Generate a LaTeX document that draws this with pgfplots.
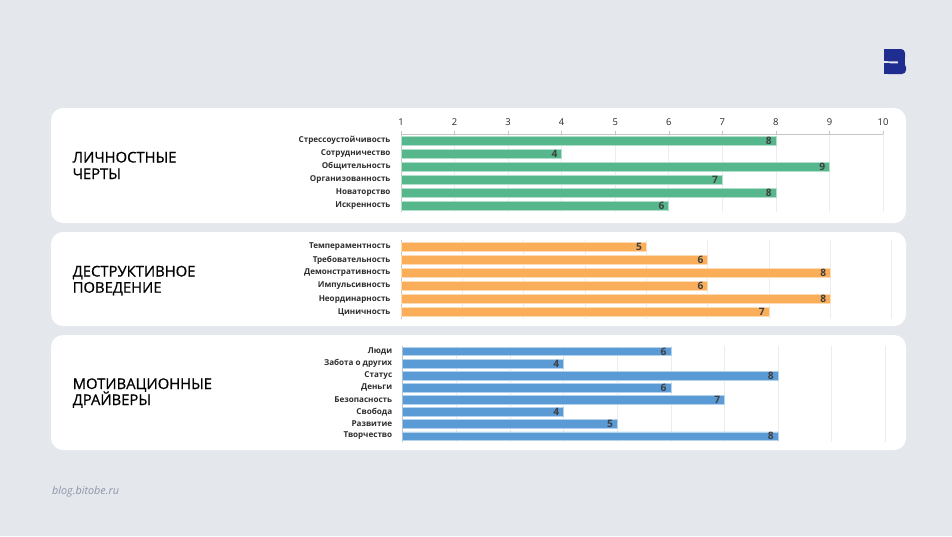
\documentclass[border=0pt]{standalone}
\usepackage{fontspec}
\setmainfont{Open Sans}
\newfontfamily\titlefont[FakeBold=0.7]{Open Sans}
\usepackage{pgfplots}
\pgfplotsset{compat=1.18}
\definecolor{bg}{HTML}{E4E7EC}
\definecolor{cgreen}{HTML}{55B78B}
\definecolor{corange}{HTML}{FAAE5A}
\definecolor{cblue}{HTML}{5B9BD5}
\definecolor{logoc}{HTML}{1E2D8F}
\definecolor{valtxt}{HTML}{3F3F3F}
\definecolor{cattxt}{HTML}{2E2E2E}
\definecolor{gridc}{HTML}{EDEDED}
\definecolor{axc}{HTML}{C4C4C4}
\definecolor{footc}{HTML}{8C96A8}
\pgfplotsset{
  panelbase/.style={
    scale only axis, anchor=north west, xbar, y dir=reverse,
    axis y line*=left,
    xmajorgrids, grid style={gridc, line width=0.6pt},
    major tick length=3pt, tick align=outside,
    ytick style={draw=none},
    extra y tick style={grid=none, tick style={draw=axc, line width=0.5pt}},
    extra y tick labels={},
    yticklabel style={font=\bfseries\fontsize{8.1}{9}\selectfont, text=cattxt, xshift=-4pt},
    nodes near coords,
    every node near coord/.append style={anchor=east, font=\bfseries\fontsize{10.2}{11}\selectfont, text=valtxt, xshift=-3pt, inner sep=1pt},
    /pgf/number format/assume math mode=true,
    axis line style={axc, line width=0.6pt},
  },
}
\begin{document}
\begin{tikzpicture}[x=1pt,y=-1pt]
\fill[bg] (0,0) rectangle (952,536);
\fill[white, rounded corners=12pt] (51,108) rectangle (906,223);
\fill[white, rounded corners=12pt] (51,232) rectangle (906,326);
\fill[white, rounded corners=12pt] (51,335) rectangle (906,450);
% logo
\fill[logoc, rounded corners=4pt] (884,49) -- (905,49) -- (905,61.3) -- (884,61.3) -- cycle;
\fill[logoc, rounded corners=4pt] (884,63.3) -- (906,63.3) -- (906,74) -- (884,74) -- cycle;
\fill[logoc] (898,58) rectangle (905,66);
\fill[logoc] (884,49) rectangle (890,61.3);
\fill[logoc] (884,63.3) rectangle (890,74);
% titles
\begin{scope}[every node/.style={anchor=base west, inner sep=0pt, font=\titlefont\fontsize{14.8}{16}\selectfont, text=black}]
\node at (72.5,162.5) {ЛИЧНОСТНЫЕ};
\node at (72.5,179) {ЧЕРТЫ};
\node at (72.5,276.5) {ДЕСТРУКТИВНОЕ};
\node at (72.5,292.7) {ПОВЕДЕНИЕ};
\node at (72.5,389) {МОТИВАЦИОННЫЕ};
\node at (72.5,405) {ДРАЙВЕРЫ};
\end{scope}
\node[anchor=base west, inner sep=0pt, font=\itshape\fontsize{10.8}{12}\selectfont, text=footc] at (52,494) {blog.bitobe.ru};
% panel 1
\begin{axis}[panelbase, at={(401pt,-134pt)}, width=482pt, height=78.3pt,
  xmin=1, xmax=10, ymin=-0.5, ymax=5.5,
  axis x line*=top, xtick={1,...,10},
  xtick style={draw=axc, line width=0.5pt},
  xticklabel style={font=\fontsize{9.4}{10}\selectfont, text=black!85, yshift=2pt},
  ytick={0,...,5},
  yticklabels={Стрессоустойчивость,Сотрудничество,Общительность,Организованность,Новаторство,Искренность},
  extra y ticks={-0.5,0.5,1.5,2.5,3.5,4.5,5.5},
  bar width=9pt]
\addplot[fill=cgreen, draw=cgreen!45!white, line width=0.6pt] coordinates {(8,0) (4,1) (9,2) (7,3) (8,4) (6,5)};
\end{axis}
% panel 2
\begin{axis}[panelbase, at={(401pt,-240.3pt)}, width=490.7pt, height=78.4pt,
  xmin=1, xmax=9, ymin=-0.5, ymax=5.5,
  axis x line*=top, xtick={1,...,9}, xticklabels={},
  x axis line style={draw=none}, xtick style={draw=none},
  ytick={0,...,5},
  yticklabels={Темпераментность,Требовательность,Демонстративность,Импульсивность,Неординарность,Циничность},
  extra y ticks={-0.5,0.5,1.5,2.5,3.5,4.5,5.5},
  bar width=9pt]
\addplot[fill=corange, draw=corange!45!white, line width=0.6pt] coordinates {(5,0) (6,1) (8,2) (6,3) (8,4) (7,5)};
\end{axis}
% panel 3
\begin{axis}[panelbase, at={(402.7pt,-345.5pt)}, width=482.6pt, height=96.6pt,
  xmin=1, xmax=10, ymin=-0.5, ymax=7.5,
  axis x line*=top, xtick={1,...,10}, xticklabels={},
  x axis line style={draw=none}, xtick style={draw=none},
  ytick={0,...,7},
  yticklabels={Люди,Забота о других,Статус,Деньги,Безопасность,Свобода,Развитие,Творчество},
  extra y ticks={-0.5,0.5,1.5,2.5,3.5,4.5,5.5,6.5,7.5},
  bar width=8.4pt]
\addplot[fill=cblue, draw=cblue!45!white, line width=0.6pt] coordinates {(6,0) (4,1) (8,2) (6,3) (7,4) (4,5) (5,6) (8,7)};
\end{axis}
\end{tikzpicture}
\end{document}
